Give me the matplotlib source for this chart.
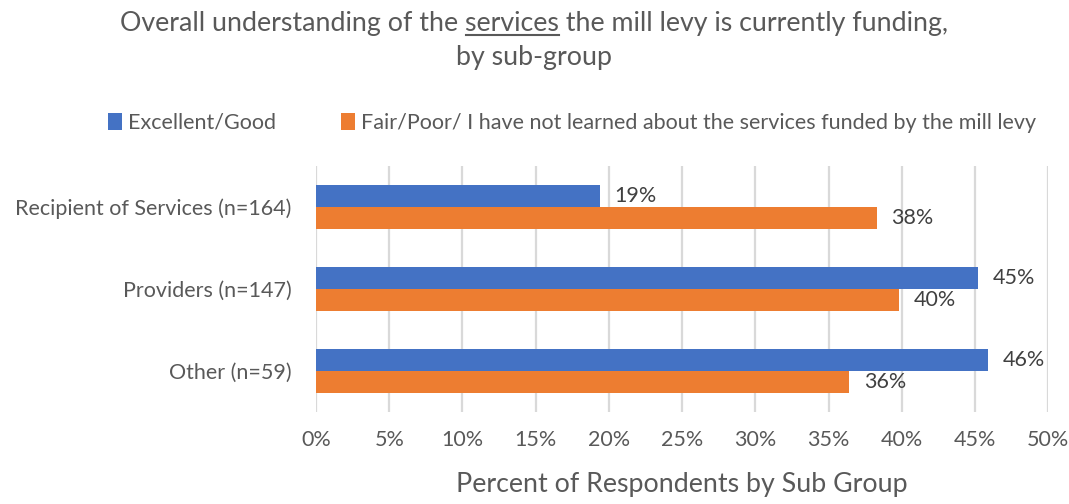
import matplotlib.pyplot as plt
import numpy as np
from matplotlib.lines import Line2D

groups = ['Recipient of Services (n=164)', 'Providers (n=147)', 'Other (n=59)']
excellent_good = [19.4, 45.2, 45.9]
fair_poor = [38.3, 39.8, 36.4]
series_names = ['Excellent/Good',
                'Fair/Poor/ I have not learned about the services funded by the mill levy']
xticks = [0, 5, 10, 15, 20, 25, 30, 35, 40, 45, 50]

BLUE = '#4472C4'
ORANGE = '#ED7D31'
TXT = '#595959'
FS = 15.5
TFS = 19.3

plt.rcParams['font.family'] = ['Lato', 'DejaVu Sans']

fig = plt.figure(figsize=(10.69, 5.04), dpi=100)
ax = fig.add_axes([0.2956, 0.1825, 0.6850, 0.4881])

y = np.arange(len(groups))
h = 0.268
b1 = ax.barh(y - h / 2, excellent_good, height=h, color=BLUE, label=series_names[0], zorder=3)
b2 = ax.barh(y + h / 2, fair_poor, height=h, color=ORANGE, label=series_names[1], zorder=3)

ax.set_ylim(len(groups) - 0.5, -0.5)
ax.set_xlim(0, 50)
ax.set_yticks(y)
ax.set_yticklabels(groups)
ax.set_xticks(xticks)
ax.set_xticklabels([f'{t}%' for t in xticks])
ax.tick_params(axis='both', length=0, labelsize=FS, colors=TXT)
ax.tick_params(axis='y', pad=17.5)
ax.tick_params(axis='x', pad=13)
ax.grid(axis='x', color='#D9D9D9', linewidth=1.6, zorder=0)
for s in ax.spines.values():
    s.set_visible(False)

# value labels
for bars, vals in ((b1, excellent_good), (b2, fair_poor)):
    for i, (bar, v) in enumerate(zip(bars, vals)):
        t = ax.text(v + 1.0, bar.get_y() + bar.get_height() / 2, f'{v:.0f}%',
                    va='center', ha='left', fontsize=FS, color='#404040', zorder=4)
        if bars is b1 and i == 0:
            t.set_bbox(dict(facecolor='white', edgecolor='none', pad=1))

ax.set_xlabel('Percent of Respondents by Sub Group', fontsize=TFS, color=TXT, labelpad=16)

# legend
fig.legend(handles=[b1, b2], labels=series_names, loc='center', bbox_to_anchor=(0.535, 0.756),
           ncol=2, frameon=False, fontsize=FS, handlelength=0.65, handleheight=0.8,
           handletextpad=0.3, columnspacing=3.0, labelcolor=TXT)

# title with underlined word
line1 = 'Overall understanding of the services the mill levy is currently funding,'
t1 = fig.text(0.5, 1 - 24 / 504, line1, ha='center', va='center', fontsize=TFS, color=TXT)
fig.text(0.5, 1 - 57 / 504, 'by sub-group', ha='center', va='center', fontsize=TFS, color=TXT)

fig.canvas.draw()
r = fig.canvas.get_renderer()
full = t1.get_window_extent(r)
pre = fig.text(0, 0, 'Overall understanding of the ', fontsize=TFS)
word = fig.text(0, 0, 'services', fontsize=TFS)
pw = pre.get_window_extent(r).width
ww = word.get_window_extent(r).width
pre.remove()
word.remove()
x0 = full.x0 + pw
uy = full.y0 + 2
fig.add_artist(Line2D([x0 / fig.bbox.width, (x0 + ww) / fig.bbox.width],
                      [uy / fig.bbox.height, uy / fig.bbox.height],
                      color=TXT, linewidth=1.5, transform=fig.transFigure))

fig.savefig('out.png', dpi=100)
